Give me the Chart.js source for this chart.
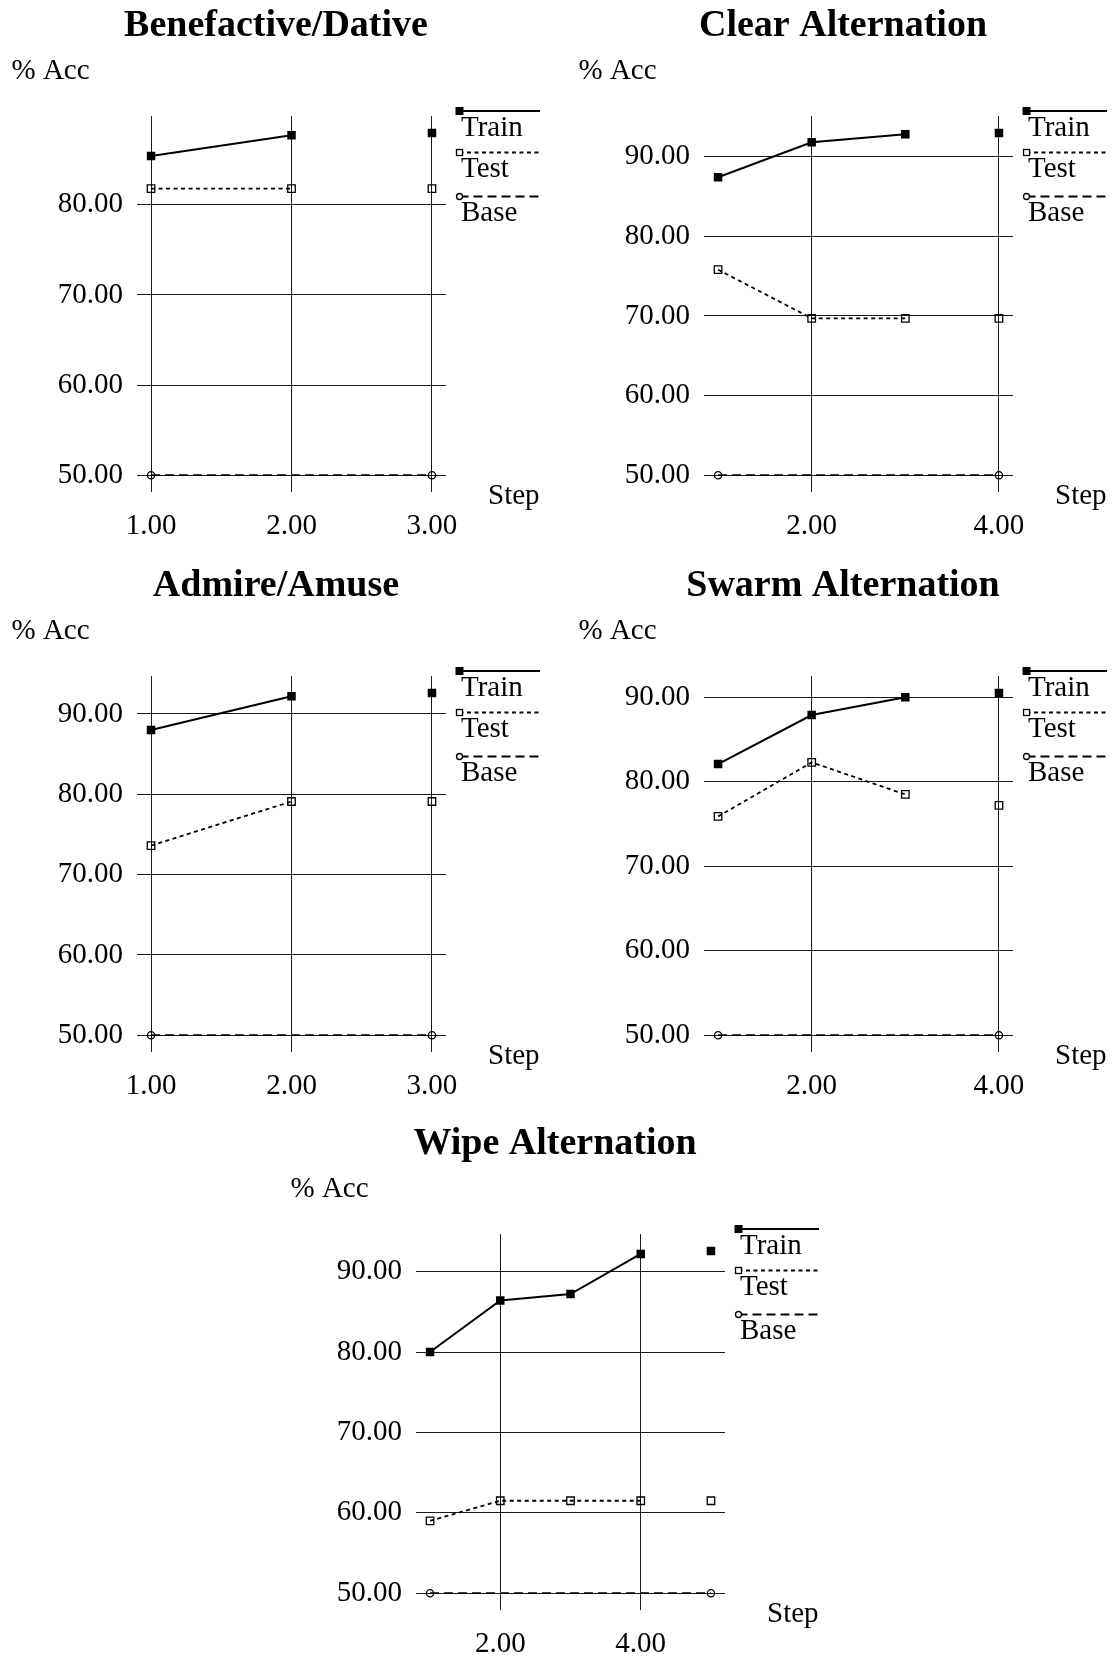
<!DOCTYPE html>
<html><head><meta charset="utf-8">
<script src="https://cdn.jsdelivr.net/npm/chart.js@4.4.1/dist/chart.umd.min.js"></script>
<style>
html,body{margin:0;padding:0;background:#fff;overflow:hidden;width:1112px;height:1659px;position:relative;}
canvas{position:absolute;}
</style></head><body>
<canvas id="c0" width="552" height="545" style="left:0px;top:0px"></canvas>
<canvas id="c1" width="552" height="545" style="left:567px;top:0px"></canvas>
<canvas id="c2" width="552" height="545" style="left:0px;top:560px"></canvas>
<canvas id="c3" width="552" height="545" style="left:567px;top:560px"></canvas>
<canvas id="c4" width="552" height="545" style="left:279px;top:1118px"></canvas>
<script>
// ---- text ----
const titles = ['Benefactive/Dative', 'Clear Alternation', 'Admire/Amuse', 'Swarm Alternation', 'Wipe Alternation'];
const seriesNames = ['Train', 'Test', 'Base'];
const yAxisLabel = '% Acc';
const xAxisLabel = 'Step';

// ---- Benefactive/Dative ----
const benSteps = [1, 2, 3];
const benTrain = [85.4, 87.7, 87.95];
const benTest = [81.8, 81.8, 81.8];
const benBase = [50, 50];
const benXTicks = [1, 2, 3];
const benYTicks = [50, 60, 70, 80];

// ---- Clear Alternation ----
const clearSteps = [1, 2, 3, 4];
const clearTrain = [87.4, 91.8, 92.8, 92.95];
const clearTest = [75.8, 69.7, 69.7, 69.7];
const clearBase = [50, 50];
const clearXTicks = [2, 4];
const clearYTicks = [50, 60, 70, 80, 90];

// ---- Admire/Amuse ----
const admSteps = [1, 2, 3];
const admTrain = [88.0, 92.2, 92.6];
const admTest = [73.6, 79.1, 79.1];
const admBase = [50, 50];
const admXTicks = [1, 2, 3];
const admYTicks = [50, 60, 70, 80, 90];

// ---- Swarm Alternation ----
const swarmSteps = [1, 2, 3, 4];
const swarmTrain = [82.1, 87.9, 90.0, 90.5];
const swarmTest = [75.9, 82.3, 78.5, 77.2];
const swarmBase = [50, 50];
const swarmXTicks = [2, 4];
const swarmYTicks = [50, 60, 70, 80, 90];

// ---- Wipe Alternation ----
const wipeSteps = [1, 2, 3, 4, 5];
const wipeTrain = [80.0, 86.4, 87.2, 92.2, 92.55];
const wipeTest = [59.0, 61.5, 61.5, 61.5, 61.5];
const wipeBase = [50, 50];
const wipeXTicks = [2, 4];
const wipeYTicks = [50, 60, 70, 80, 90];

const panels = [
  {steps: benSteps, train: benTrain, test: benTest, base: benBase, xt: benXTicks, yt: benYTicks},
  {steps: clearSteps, train: clearTrain, test: clearTest, base: clearBase, xt: clearXTicks, yt: clearYTicks},
  {steps: admSteps, train: admTrain, test: admTest, base: admBase, xt: admXTicks, yt: admYTicks},
  {steps: swarmSteps, train: swarmTrain, test: swarmTest, base: swarmBase, xt: swarmXTicks, yt: swarmYTicks},
  {steps: wipeSteps, train: wipeTrain, test: wipeTest, base: wipeBase, xt: wipeXTicks, yt: wipeYTicks}
];

const FONT = "'Liberation Serif', 'Times New Roman', serif";
const INK = '#000';
const GRID = '#1a1a1a';

const annotPlugin = {
  id: 'annot',
  afterDraw(chart) {
    const ctx = chart.ctx, a = chart.chartArea;
    ctx.save();
    ctx.fillStyle = INK;
    ctx.strokeStyle = INK;
    ctx.font = '29px ' + FONT;
    ctx.textAlign = 'left';
    ctx.textBaseline = 'alphabetic';
    ctx.fillText(yAxisLabel, 11.5, a.top - 37.5);
    ctx.fillText(xAxisLabel, a.right + 42, a.bottom + 11.5);
    const rows = [-5, 36.5, 80.5];
    chart.data.datasets.forEach((ds, i) => {
      const y = a.top + rows[i];
      const x0 = a.right + 13.5, x1 = a.right + 94;
      ctx.lineWidth = ds.borderWidth;
      ctx.setLineDash(ds.borderDash || []);
      ctx.beginPath(); ctx.moveTo(x0, y); ctx.lineTo(x1, y); ctx.stroke();
      ctx.setLineDash([]);
      ctx.lineWidth = 1.3;
      if (i === 0) {
        ctx.fillRect(x0 - 4, y - 4, 8, 8);
      } else if (i === 1) {
        ctx.fillStyle = '#fff';
        ctx.fillRect(x0 - 3, y - 3, 6, 6);
        ctx.strokeRect(x0 - 3, y - 3, 6, 6);
        ctx.fillStyle = INK;
      } else {
        ctx.fillStyle = '#fff';
        ctx.beginPath(); ctx.arc(x0, y, 3, 0, Math.PI * 2); ctx.fill(); ctx.stroke();
        ctx.fillStyle = INK;
      }
      ctx.fillText(ds.label, x0 + 1.5, y + 24.5);
    });
    ctx.restore();
  }
};

panels.forEach((p, k) => {
  const n = p.steps.length;
  const last = n - 1;
  const allY = p.train.concat(p.test, p.base);
  const yMin = Math.min(...allY), yMax = Math.max(...allY);
  const yPad = (yMax - yMin) * 0.05;
  const xPad = (p.steps[last] - p.steps[0]) * 0.05;
  const hideLast = ctx => (ctx.p1DataIndex === last ? 'rgba(0,0,0,0)' : undefined);

  new Chart(document.getElementById('c' + k), {
    type: 'line',
    data: {
      datasets: [
        {
          label: seriesNames[0],
          data: p.steps.map((s, i) => ({x: s, y: p.train[i]})),
          borderColor: INK, borderWidth: 2,
          pointStyle: 'rect', pointRadius: 6,
          pointBackgroundColor: INK, pointBorderColor: INK, pointBorderWidth: 0,
          segment: {borderColor: hideLast}
        },
        {
          label: seriesNames[1],
          data: p.steps.map((s, i) => ({x: s, y: p.test[i]})),
          borderColor: INK, borderWidth: 1.8, borderDash: [4, 3.5],
          pointStyle: 'rect', pointRadius: 5.3,
          pointBackgroundColor: 'rgba(0,0,0,0)', pointBorderColor: INK, pointBorderWidth: 1.3,
          segment: {borderColor: hideLast}
        },
        {
          label: seriesNames[2],
          data: [{x: p.steps[0], y: p.base[0]}, {x: p.steps[last], y: p.base[1]}],
          borderColor: INK, borderWidth: 1.8, borderDash: [9, 5],
          pointStyle: 'circle', pointRadius: 3.6,
          pointBackgroundColor: 'rgba(0,0,0,0)', pointBorderColor: INK, pointBorderWidth: 1.3
        }
      ]
    },
    options: {
      responsive: false,
      animation: false,
      events: [],
      layout: {padding: 0},
      elements: {line: {tension: 0}},
      scales: {
        x: {
          type: 'linear',
          min: p.steps[0] - xPad,
          max: p.steps[last] + xPad,
          grid: {color: GRID, lineWidth: 1, drawTicks: false},
          border: {display: false},
          ticks: {color: INK, font: {family: FONT, size: 29}, padding: 17, maxRotation: 0,
                  callback: v => Number(v).toFixed(2)},
          afterBuildTicks: s => { s.ticks = p.xt.map(v => ({value: v})); },
          afterFit: s => { s.height = 52.7; }
        },
        y: {
          type: 'linear',
          min: yMin - yPad,
          max: yMax + yPad,
          grid: {color: GRID, lineWidth: 1, drawTicks: false},
          border: {display: false},
          ticks: {color: INK, font: {family: FONT, size: 29}, padding: 14,
                  callback: v => Number(v).toFixed(2)},
          afterBuildTicks: s => { s.ticks = p.yt.map(v => ({value: v})); },
          afterFit: s => { s.width = 137; }
        },
        yRight: {
          type: 'linear',
          position: 'right',
          display: true,
          grid: {display: false, drawTicks: false},
          border: {display: false},
          ticks: {display: false},
          afterFit: s => { s.width = 106; }
        }
      },
      plugins: {
        legend: {display: false},
        tooltip: {enabled: false},
        title: {
          display: true,
          text: titles[k],
          color: INK,
          font: {family: FONT, size: 38, weight: 'bold'},
          padding: {top: 3.5, bottom: 66.9}
        }
      }
    },
    plugins: [annotPlugin]
  });
});
</script>
</body></html>
